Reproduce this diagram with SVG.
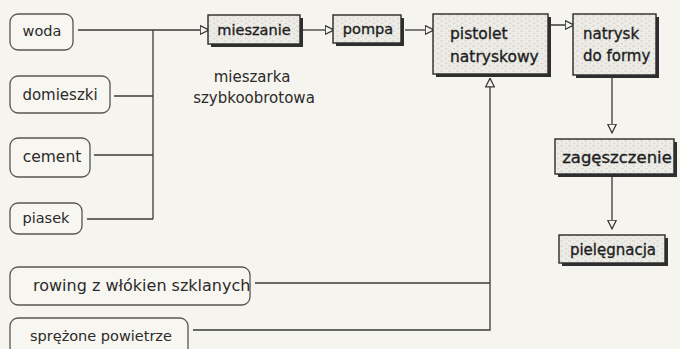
<svg xmlns="http://www.w3.org/2000/svg" width="680" height="349" viewBox="0 0 680 349">
<defs>
<style>
.bg{fill:#f6f4ee}
.src{fill:#f8f6f0;stroke:#555;stroke-width:1.3}
.proc{fill:url(#tex);stroke:#2a2a2a;stroke-width:1.4}
.shadow{fill:#2f2f2f}
.lbl{font-family:"DejaVu Sans","Liberation Sans",sans-serif;fill:#2b2b2b}
.plbl{font-family:"DejaVu Sans","Liberation Sans",sans-serif;fill:#1e1e1e;stroke:#1e1e1e;stroke-width:0.35}
.conn{fill:none;stroke:#3a3a3a;stroke-width:1.3}
</style>
<pattern id="tex" width="8" height="5" patternUnits="userSpaceOnUse">
<rect width="8" height="5" fill="#ecebe6"/>
<path d="M0,1 h3 M5,3.5 h2" stroke="#cfcdc7" stroke-width="0.8"/>
</pattern>
<marker id="arr" viewBox="0 0 10 10" refX="9.5" refY="5" markerWidth="10" markerHeight="10" markerUnits="userSpaceOnUse" orient="auto">
<path d="M0.7,0.7 L9.3,5 L0.7,9.3 Z" fill="#f6f4ee" stroke="#3a3a3a" stroke-width="1.3"/>
</marker>
</defs>
<rect class="bg" width="680" height="349"/>

<g id="connectors">
<path class="conn" d="M78,30 H209" marker-end="url(#arr)"/>
<path class="conn" d="M153,30 V219"/>
<path class="conn" d="M114,96 H153"/>
<path class="conn" d="M94,155 H153"/>
<path class="conn" d="M87,219 H153"/>
<path class="conn" d="M303,30 H334" marker-end="url(#arr)"/>
<path class="conn" d="M405,30 H434" marker-end="url(#arr)"/>
<path class="conn" d="M538,25 H574" marker-end="url(#arr)"/>
<path class="conn" d="M612,78 V133" marker-end="url(#arr)"/>
<path class="conn" d="M612,176 V229" marker-end="url(#arr)"/>
<path class="conn" d="M255,283 H490"/>
<path class="conn" d="M193,330 H490 V78" marker-end="url(#arr)"/>
</g>

<g id="woda"><rect class="src" x="10" y="14" width="63" height="36" rx="8"/><text class="lbl" x="42" y="36" text-anchor="middle" font-size="14.5">woda</text></g>
<g id="domieszki"><rect class="src" x="10" y="76" width="100" height="37" rx="8"/><text class="lbl" x="60" y="100" text-anchor="middle" font-size="15">domieszki</text></g>
<g id="cement"><rect class="src" x="10" y="138" width="80" height="39" rx="8"/><text class="lbl" x="52" y="162" text-anchor="middle" font-size="15.5">cement</text></g>
<g id="piasek"><rect class="src" x="10" y="203" width="72" height="31" rx="8"/><text class="lbl" x="46" y="223" text-anchor="middle" font-size="14.5">piasek</text></g>
<g id="rowing"><rect class="src" x="10" y="267" width="240" height="38" rx="8"/><text class="lbl" x="33" y="291" font-size="16">rowing z włókien szklanych</text></g>
<g id="sprezone"><rect class="src" x="10" y="318" width="178" height="40" rx="8"/><text class="lbl" x="30" y="341" font-size="14.5">sprężone powietrze</text></g>

<g id="mieszanie"><rect class="shadow" x="211" y="18" width="92" height="29"/><rect class="proc" x="208" y="15" width="92" height="29"/><text class="plbl" x="254" y="35" text-anchor="middle" font-size="14.5">mieszanie</text></g>
<g id="pompa"><rect class="shadow" x="336" y="18" width="68" height="28"/><rect class="proc" x="333" y="15" width="68" height="28"/><text class="plbl" x="368" y="34" text-anchor="middle" font-size="14.5">pompa</text></g>
<g id="pistolet"><rect class="shadow" x="436" y="17" width="115" height="60"/><rect class="proc" x="433" y="14" width="115" height="60"/><text class="plbl" x="450" y="39" font-size="15.5">pistolet</text><text class="plbl" x="450" y="62" font-size="15.5">natryskowy</text></g>
<g id="natrysk"><rect class="shadow" x="576" y="17" width="83" height="61"/><rect class="proc" x="573" y="14" width="83" height="61"/><text class="plbl" x="583" y="39" font-size="15">natrysk</text><text class="plbl" x="583" y="61" font-size="15">do formy</text></g>
<g id="zageszczenie"><rect class="shadow" x="558" y="142" width="119" height="35"/><rect class="proc" x="555" y="139" width="119" height="35"/><text class="plbl" x="617" y="163" text-anchor="middle" font-size="16.5">zagęszczenie</text></g>
<g id="pielegnacja"><rect class="shadow" x="562" y="238" width="106" height="28"/><rect class="proc" x="559" y="235" width="106" height="28"/><text class="plbl" x="613" y="255" text-anchor="middle" font-size="15">pielęgnacja</text></g>

<g id="mieszarka-label"><text class="lbl" x="252" y="82" text-anchor="middle" font-size="15">mieszarka</text><text class="lbl" x="254" y="103" text-anchor="middle" font-size="15">szybkoobrotowa</text></g>
</svg>
